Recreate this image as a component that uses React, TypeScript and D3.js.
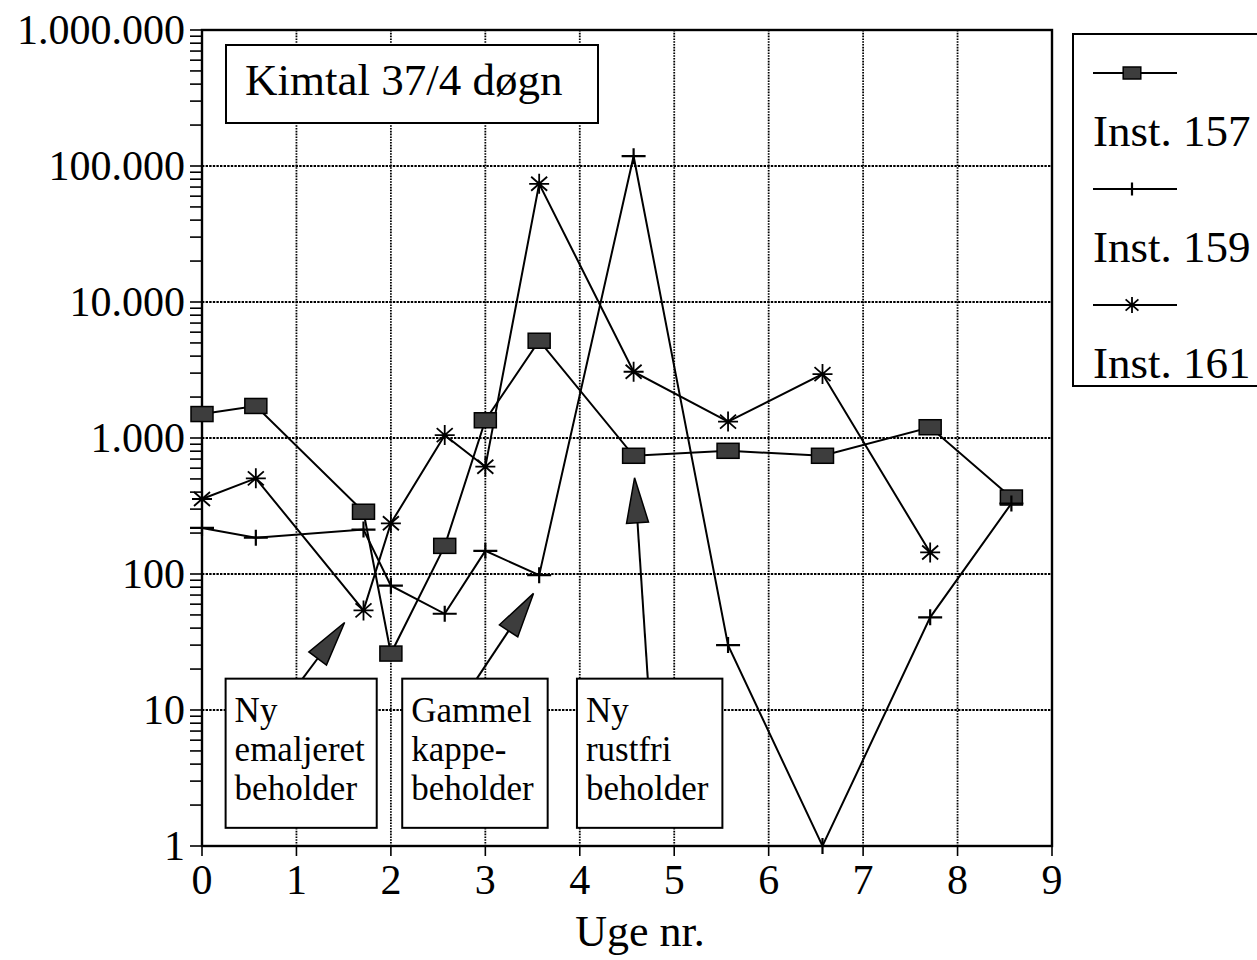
import { useEffect, useRef } from 'react'
import * as d3 from 'd3'

// weeks (days / 7) at which samples were taken
const weeks = [0, 0.57, 1.71, 2, 2.57, 3, 3.57, 4.57, 5.57, 6.57, 7.71, 8.57]

// Kimtal 37/4 døgn per installation
const inst157 = [1500, 1720, 287, 26, 161, 1350, 5190, 740, 805, 740, 1200, 365]
const inst159 = [218, 185, 212, 82, 51, 148, 98, 118000, 30, 1, 48, 330]
const inst161 = [356, 505, 54, 236, 1050, 615, 74000, 3070, 1320, 2950, 144]

const seriesNames = ['Inst. 157', 'Inst. 159', 'Inst. 161']
const seriesMarkers = ['square', 'plus', 'star']

const xTicks = [0, 1, 2, 3, 4, 5, 6, 7, 8, 9]
const yTicks = [1, 10, 100, 1000, 10000, 100000, 1000000]

// annotation boxes (in weeks / counts) and the arrows pointing from them
const noteLines = [
  ['Ny', 'emaljeret', 'beholder'],
  ['Gammel', 'kappe-', 'beholder'],
  ['Ny', 'rustfri', 'beholder'],
]
const noteFrom = [0.25, 2.12, 3.97]
const noteTo = [1.85, 3.66, 5.51]
const noteTop = 17
const noteBottom = 1.36
const arrowTail = [1.065, 2.91, 4.72]
const arrowTipWeek = [1.51, 3.51, 4.58]
const arrowTipValue = [44, 72, 510]

const FONT = '"Liberation Serif", "Times New Roman", serif'

const dk = d3.formatLocale({ decimal: ',', thousands: '.', grouping: [3], currency: ['', ' kr.'] })
const fmt = dk.format(',d')

function drawMarker(g: d3.Selection<SVGGElement, unknown, null, undefined>, kind: string, x: number, y: number, s = 1) {
  if (kind === 'square') {
    g.append('rect')
      .attr('x', x - 11 * s).attr('y', y - 7.5 * s)
      .attr('width', 22 * s).attr('height', 15 * s)
      .attr('fill', '#3d3d3d').attr('stroke', '#000').attr('stroke-width', 1.5)
  } else if (kind === 'plus') {
    g.append('path')
      .attr('d', `M${x - 12 * s},${y}H${x + 12 * s}M${x},${y - 8 * s}V${y + 8 * s}`)
      .attr('stroke', '#000').attr('stroke-width', 2.2).attr('fill', 'none')
  } else {
    const a = 10 * s, b = 8 * s, c = 7 * s
    g.append('path')
      .attr('d', `M${x - a},${y}H${x + a}M${x},${y - a}V${y + a}M${x - b},${y - c}L${x + b},${y + c}M${x - b},${y + c}L${x + b},${y - c}`)
      .attr('stroke', '#000').attr('stroke-width', 1.8).attr('fill', 'none')
  }
}

export default function App() {
  const svgRef = useRef<SVGSVGElement>(null)

  useEffect(() => {
    if (!svgRef.current) return
    const width = 1257
    const height = 960
    const left = 202, right = 1052, top = 30, bottom = 846

    const svg = d3.select(svgRef.current)
    svg.selectAll('*').remove()
    svg.attr('width', width).attr('height', height)

    const g = svg.append('g').attr('font-family', FONT).attr('fill', '#000')

    const x = d3.scaleLinear().domain([0, 9]).range([left, right])
    const y = d3.scaleLog().domain([1, 1000000]).range([bottom, top])

    g.append('rect').attr('width', width).attr('height', height).attr('fill', '#fff')

    // grid (dotted)
    g.selectAll('.vgrid')
      .data(xTicks.slice(1, -1))
      .enter()
      .append('line')
      .attr('x1', d => x(d)).attr('x2', d => x(d))
      .attr('y1', top).attr('y2', bottom)
      .attr('stroke', '#000').attr('stroke-width', 1.8)
      .attr('stroke-dasharray', '1.6,1.2')

    g.selectAll('.hgrid')
      .data(yTicks.slice(1, -1))
      .enter()
      .append('line')
      .attr('x1', left).attr('x2', right)
      .attr('y1', d => y(d)).attr('y2', d => y(d))
      .attr('stroke', '#000').attr('stroke-width', 1.8)
      .attr('stroke-dasharray', '2.4,1.2')

    // minor + major ticks on y axis
    const minor: number[] = []
    yTicks.forEach(t => {
      if (t < 1000000) for (let k = 1; k < 10; k++) minor.push(t * k)
    })
    minor.push(1000000)
    g.selectAll('.ytick')
      .data(minor)
      .enter()
      .append('line')
      .attr('x1', left - 12).attr('x2', left)
      .attr('y1', d => y(d)).attr('y2', d => y(d))
      .attr('stroke', '#000').attr('stroke-width', 1.6)

    g.selectAll('.ylab')
      .data(yTicks)
      .enter()
      .append('text')
      .attr('x', left - 17)
      .attr('y', d => y(d))
      .attr('dy', '0.33em')
      .attr('text-anchor', 'end')
      .attr('font-size', 42)
      .text(d => fmt(d))

    // x ticks
    g.selectAll('.xtick')
      .data(xTicks)
      .enter()
      .append('line')
      .attr('x1', d => x(d)).attr('x2', d => x(d))
      .attr('y1', bottom).attr('y2', bottom + 10)
      .attr('stroke', '#000').attr('stroke-width', 1.6)

    g.selectAll('.xlab')
      .data(xTicks)
      .enter()
      .append('text')
      .attr('x', d => x(d))
      .attr('y', bottom + 48)
      .attr('text-anchor', 'middle')
      .attr('font-size', 42)
      .text(d => d)

    g.append('text')
      .attr('x', 640)
      .attr('y', 946)
      .attr('text-anchor', 'middle')
      .attr('font-size', 44)
      .text('Uge nr.')

    // frame
    g.append('rect')
      .attr('x', left).attr('y', top)
      .attr('width', right - left).attr('height', bottom - top)
      .attr('fill', 'none').attr('stroke', '#000').attr('stroke-width', 2.4)

    // title box
    g.append('rect')
      .attr('x', 226).attr('y', 45).attr('width', 372).attr('height', 78)
      .attr('fill', '#fff').attr('stroke', '#000').attr('stroke-width', 2)
    g.append('text')
      .attr('x', 245).attr('y', 95)
      .attr('font-size', 45)
      .text('Kimtal 37/4 døgn')

    // annotation boxes + arrows
    noteLines.forEach((lines, i) => {
      const bx = x(noteFrom[i])
      const by = y(noteTop)
      g.append('rect')
        .attr('x', bx).attr('y', by)
        .attr('width', x(noteTo[i]) - bx).attr('height', y(noteBottom) - by)
        .attr('fill', '#fff').attr('stroke', '#000').attr('stroke-width', 2)
      lines.forEach((t, j) => {
        g.append('text')
          .attr('x', bx + 9).attr('y', by + 43 + j * 39)
          .attr('font-size', 35)
          .text(t)
      })

      const x0 = x(arrowTail[i]), y0 = by
      const x1 = x(arrowTipWeek[i]), y1 = y(arrowTipValue[i])
      const len = Math.hypot(x1 - x0, y1 - y0)
      const ux = (x1 - x0) / len, uy = (y1 - y0) / len
      const head = 45, half = 11
      const cx = x1 - ux * head, cy = y1 - uy * head
      g.append('line')
        .attr('x1', x0).attr('y1', y0).attr('x2', cx).attr('y2', cy)
        .attr('stroke', '#000').attr('stroke-width', 2)
      g.append('path')
        .attr('d', `M${x1},${y1}L${cx - uy * half},${cy + ux * half}L${cx + uy * half},${cy - ux * half}Z`)
        .attr('fill', '#3d3d3d').attr('stroke', '#000').attr('stroke-width', 1.5)
    })

    // series
    const allSeries = [inst157, inst159, inst161]
    const line = d3.line<[number, number]>()
      .x(d => x(d[0]))
      .y(d => y(d[1]))

    allSeries.forEach(vals => {
      const pts = vals.map((v, k) => [weeks[k], v] as [number, number])
      g.append('path')
        .attr('d', line(pts))
        .attr('fill', 'none')
        .attr('stroke', '#000')
        .attr('stroke-width', 2)
    })
    allSeries.forEach((vals, i) => {
      const mg = g.append('g')
      vals.forEach((v, k) => drawMarker(mg, seriesMarkers[i], x(weeks[k]), y(v)))
    })

    // legend
    g.append('rect')
      .attr('x', 1073).attr('y', 34).attr('width', 220).attr('height', 352)
      .attr('fill', '#fff').attr('stroke', '#000').attr('stroke-width', 2)
    seriesNames.forEach((name, i) => {
      const ly = 73 + i * 116
      g.append('line')
        .attr('x1', 1093).attr('x2', 1177).attr('y1', ly).attr('y2', ly)
        .attr('stroke', '#000').attr('stroke-width', 1.8)
      const mg = g.append('g')
      drawMarker(mg, seriesMarkers[i], 1132, ly, 0.8)
      g.append('text')
        .attr('x', 1093).attr('y', ly + 73)
        .attr('font-size', 45)
        .text(name)
    })
  }, [])

  return (
    <svg ref={svgRef} style={{ position: 'absolute', left: 0, top: 0, display: 'block' }} />
  )
}
